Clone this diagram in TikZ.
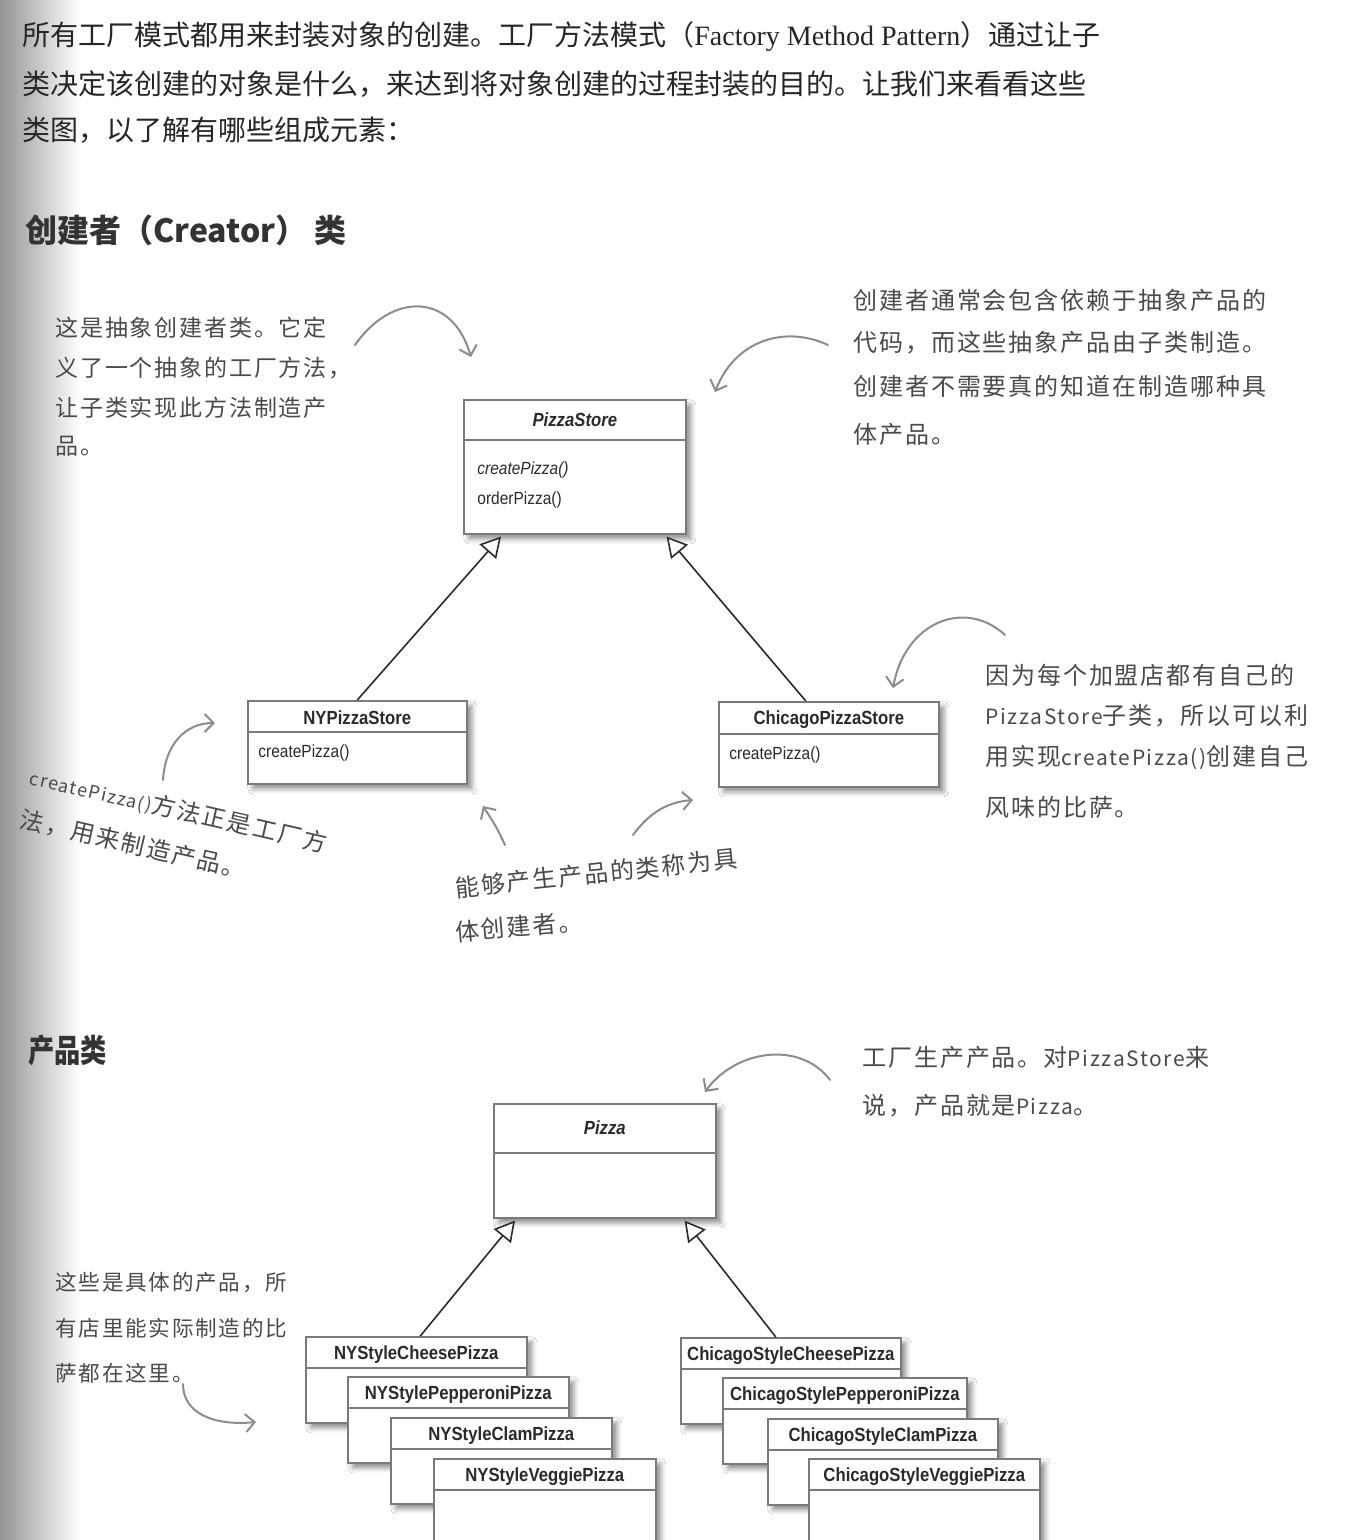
\documentclass[tikz,border=0pt]{standalone}
\usepackage{fontspec}
\usetikzlibrary{arrows.meta,shadows.blur,calc}
\newfontfamily\cjk{Noto Sans CJK SC}
\newfontfamily\headn[FakeStretch=0.82]{Noto Sans CJK SC}
\newfontfamily\hand[LetterSpace=8]{Noto Sans CJK SC}
\newfontfamily\uml[FakeStretch=0.88]{Liberation Sans}
\newfontfamily\tms{Liberation Serif}
\definecolor{handc}{HTML}{4A4A4A}
\definecolor{arrc}{HTML}{8C8C8C}
\definecolor{boxc}{HTML}{7A7A7A}
\definecolor{umltext}{HTML}{2A2A2A}
\definecolor{linec}{HTML}{2A2A2A}
\begin{document}
\begin{tikzpicture}[x=0.5pt,y=-0.5pt,
  umlbox/.style={draw=boxc, line width=0.8pt, fill=white, inner sep=0pt, anchor=north west,
    blur shadow={shadow xshift=2.5pt, shadow yshift=-2.5pt, shadow blur radius=2.5pt, shadow opacity=45}},
  divider/.style={draw=boxc, line width=0.8pt},
  umltitle/.style={font=\uml\bfseries\fontsize{9.5}{10}\selectfont, text=umltext, inner sep=0pt},
  umlmeth/.style={font=\uml\fontsize{8.8}{10}\selectfont, text=umltext, inner sep=0pt, anchor=west},
  inh/.style={draw=linec, line width=0.8pt, -{Triangle[fill=white, length=10pt, width=11pt, line width=0.8pt]}},
  para/.style={font=\cjk\fontsize{14}{15}\selectfont, text=black!85, anchor=west, inner sep=0pt},
  heading/.style={font=\cjk\bfseries\fontsize{16}{17}\selectfont, text=black!80, anchor=west, inner sep=0pt},
  hand/.style={font=\hand\fontsize{12}{12}\selectfont, text=handc, anchor=west, inner sep=0pt},
  handarrow/.style={draw=arrc, line width=1pt, line cap=round, -{Straight Barb[length=4.5pt, width=9pt]}}
]
\useasboundingbox (0,0) rectangle (1364,1540);
\fill[white] (0,0) rectangle (1364,1540);
\shade[left color=black!42, right color=white] (0,0) rectangle (80,1540);

% ---- top paragraph
\node[para] (p1) at (22,37) {所有工厂模式都用来封装对象的创建。工厂方法模式（{\tms Factory Method Pattern}）通过让子};
\node[para] (p2) at (22,84) {类决定该创建的对象是什么，来达到将对象创建的过程封装的目的。让我们来看看这些};
\node[para] (p3) at (22,130) {类图，以了解有哪些组成元素：};

% ---- headings
\node[heading] (h1) at (25,230) {创建者（Creator） 类};
\node[heading, font=\headn\bfseries\fontsize{16}{17}\selectfont] (h2) at (28,1050) {产品类};

% ---- creator classes
\node[umlbox, minimum width=111pt, minimum height=67pt] (ps) at (463,399) {};
\draw[divider] ($(ps.north west)+(0,41)$) -- ($(ps.north east)+(0,41)$);
\node[umltitle] (pst) at ($(ps.north)+(0,21)$) {\itshape PizzaStore};
\node[umlmeth] (psm1) at ($(ps.north west)+(14,71)$) {\itshape createPizza()};
\node[umlmeth] (psm2) at ($(ps.north west)+(14,101)$) {orderPizza()};

\node[umlbox, minimum width=109.5pt, minimum height=41.5pt] (ny) at (247,700) {};
\draw[divider] ($(ny.north west)+(0,32)$) -- ($(ny.north east)+(0,32)$);
\node[umltitle] (nyt) at ($(ny.north)+(0,18)$) {NYPizzaStore};
\node[umlmeth] (nym) at ($(ny.north west)+(11,53)$) {createPizza()};

\node[umlbox, minimum width=110pt, minimum height=42.5pt] (cps) at (718,701) {};
\draw[divider] ($(cps.north west)+(0,33)$) -- ($(cps.north east)+(0,33)$);
\node[umltitle] (cpst) at ($(cps.north)+(0,19)$) {ChicagoPizzaStore};
\node[umlmeth] (cpsm) at ($(cps.north west)+(11,54)$) {createPizza()};

\coordinate (psL) at ($(ps.south west)+(38,2)$);
\coordinate (psR) at ($(ps.south east)+(-20,2)$);
\coordinate (cpsTop) at ($(cps.north)+(-23,0)$);
\draw[inh] (ny.north) -- (psL);
\draw[inh] (cpsTop) -- (psR);

% ---- product classes
\node[umlbox, minimum width=111pt, minimum height=57pt] (pz) at (493,1103) {};
\draw[divider] ($(pz.north west)+(0,50)$) -- ($(pz.north east)+(0,50)$);
\node[umltitle] (pzt) at ($(pz.north)+(0,25)$) {\itshape Pizza};

\foreach \nm/\xx/\yy/\ww/\txt in {nyc/305/1336/110.5/NYStyleCheesePizza, nyp/347/1376/110.5/NYStylePepperoniPizza, nycl/390/1417/110.5/NYStyleClamPizza, nyv/433/1458/111/NYStyleVeggiePizza,
  ccc/680/1337/110/ChicagoStyleCheesePizza, ccp/722/1377/122/ChicagoStylePepperoniPizza, ccl/767/1418/115/ChicagoStyleClamPizza, ccv/808/1458/115.5/ChicagoStyleVeggiePizza}{
  \node[umlbox, minimum width=\ww pt, minimum height=43pt] (\nm) at (\xx,\yy) {};
  \draw[divider] ($(\nm.north west)+(0,32)$) -- ($(\nm.north east)+(0,32)$);
  \node[umltitle] (\nm t) at ($(\nm.north)+(0,19)$) {\txt};
}

\coordinate (pzL) at ($(pz.south west)+(22,2)$);
\coordinate (pzR) at ($(pz.south east)+(-32,2)$);
\coordinate (cccTop) at ($(ccc.north)+(-15,0)$);
\draw[inh] ($(nyc.north)+(4,0)$) -- (pzL);
\draw[inh] (cccTop) -- (pzR);

% ---- annotations
\begin{scope}[hand/.append style={font=\hand\fontsize{11.5}{12}\selectfont}]
\node[hand] (a1) at (55,328) {这是抽象创建者类。它定};
\node[hand] (a2) at (55,368) {义了一个抽象的工厂方法，};
\node[hand] (a3) at (55,408) {让子类实现此方法制造产};
\node[hand] (a4) at (55,446) {品。};
\end{scope}

\node[hand] (b1) at (853,300) {创建者通常会包含依赖于抽象产品的};
\node[hand] (b2) at (853,343) {代码，而这些抽象产品由子类制造。};
\node[hand] (b3) at (853,386) {创建者不需要真的知道在制造哪种具};
\node[hand] (b4) at (853,434) {体产品。};

\node[hand, rotate=-13, anchor=north west, align=left, font=\hand\fontsize{12}{22}\selectfont] (c1) at (33,764)
  {{\fontsize{9}{9}\selectfont createPizza()}方法正是工厂方\\法，用来制造产品。};

\node[hand, rotate=6] (d1) at (455,888) {能够产生产品的类称为具};
\node[hand, rotate=5] (d2) at (455,932) {体创建者。};

\node[hand] (e1) at (985,675) {因为每个加盟店都有自己的};
\node[hand] (e2) at (985,716) {{\fontsize{10.5}{10}\selectfont PizzaStore}子类，所以可以利};
\node[hand] (e3) at (985,757) {用实现{\fontsize{10.5}{10}\selectfont createPizza()}创建自己};
\node[hand] (e4) at (985,807) {风味的比萨。};

\node[hand] (f1) at (862,1057) {工厂生产产品。对{\fontsize{10.5}{10}\selectfont PizzaStore}来};
\node[hand] (f2) at (862,1106) {说，产品就是{\fontsize{10.5}{10}\selectfont Pizza}。};

\begin{scope}[hand/.append style={font=\hand\fontsize{10.8}{11}\selectfont}]
\node[hand] (g1) at (55,1283) {这些是具体的产品，所};
\node[hand] (g2) at (55,1328) {有店里能实际制造的比};
\node[hand] (g3) at (55,1373) {萨都在这里。};
\end{scope}

% ---- hand arrows
\coordinate (ar1s) at (355,345); \coordinate (ar1e) at (471,357);
\draw[handarrow] (ar1s) .. controls (392,292) and (452,292) .. (ar1e);
\coordinate (ar2s) at (828,345); \coordinate (ar2e) at (715,392);
\draw[handarrow] (ar2s) .. controls (785,325) and (735,340) .. (ar2e);
\coordinate (ar3s) at (163,780); \coordinate (ar3e) at (215,723);
\draw[handarrow] (ar3s) .. controls (165,745) and (185,723) .. (ar3e);
\coordinate (ar4s) at (505,845); \coordinate (ar4e) at (483,806);
\draw[handarrow] (ar4s) .. controls (497,828) .. (ar4e);
\coordinate (ar5s) at (633,835); \coordinate (ar5e) at (693,800);
\draw[handarrow] (ar5s) .. controls (650,812) and (668,802) .. (ar5e);
\coordinate (ar6s) at (1005,635); \coordinate (ar6e) at (893,688);
\draw[handarrow] (ar6s) .. controls (965,598) and (905,622) .. (ar6e);
\coordinate (ar7s) at (830,1080); \coordinate (ar7e) at (705,1092);
\draw[handarrow] (ar7s) .. controls (800,1040) and (735,1050) .. (ar7e);
\coordinate (ar8s) at (183,1384); \coordinate (ar8e) at (256,1422);
\draw[handarrow] (ar8s) .. controls (183,1414) and (215,1426) .. (ar8e);
\end{tikzpicture}
\end{document}
